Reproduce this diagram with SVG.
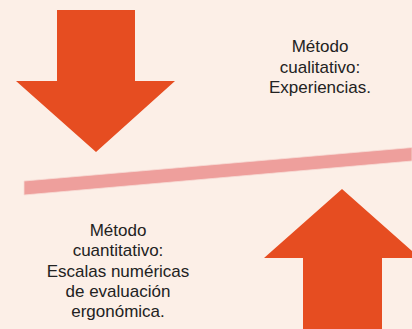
<svg xmlns="http://www.w3.org/2000/svg" width="412" height="329" viewBox="0 0 412 329">
  <style>
    .arrow { fill: #E64D21; }
    .band { fill: #EE9F9C; stroke: #F8DCD6; stroke-width: 0.8; }
    .lbl { font-family: "Liberation Sans", Arial, sans-serif; font-size: 17px; fill: #222222; text-anchor: middle; }
  </style>
  <rect x="0" y="0" width="412" height="329" fill="#FCEFE7"/>
  <g id="arrow-down">
    <polygon class="arrow" points="57,10 135,10 135,81 175,81 96,152 16,81 57,81"/>
  </g>
  <g id="arrow-up">
    <polygon class="arrow" points="342,189 420,258 382,258 382,329 303,329 303,258 264,258"/>
  </g>
  <g id="band">
    <polygon class="band" points="24,181 412,147.5 412,161 24,195"/>
  </g>
  <g id="text-cualitativo">
    <text class="lbl" x="320" y="52">Método</text>
    <text class="lbl" x="320" y="72.5">cualitativo:</text>
    <text class="lbl" x="320" y="93">Experiencias.</text>
  </g>
  <g id="text-cuantitativo">
    <text class="lbl" x="118" y="236">Método</text>
    <text class="lbl" x="118" y="256">cuantitativo:</text>
    <text class="lbl" x="118" y="276.5">Escalas numéricas</text>
    <text class="lbl" x="118" y="296.5">de evaluación</text>
    <text class="lbl" x="118" y="316.5">ergonómica.</text>
  </g>
</svg>
